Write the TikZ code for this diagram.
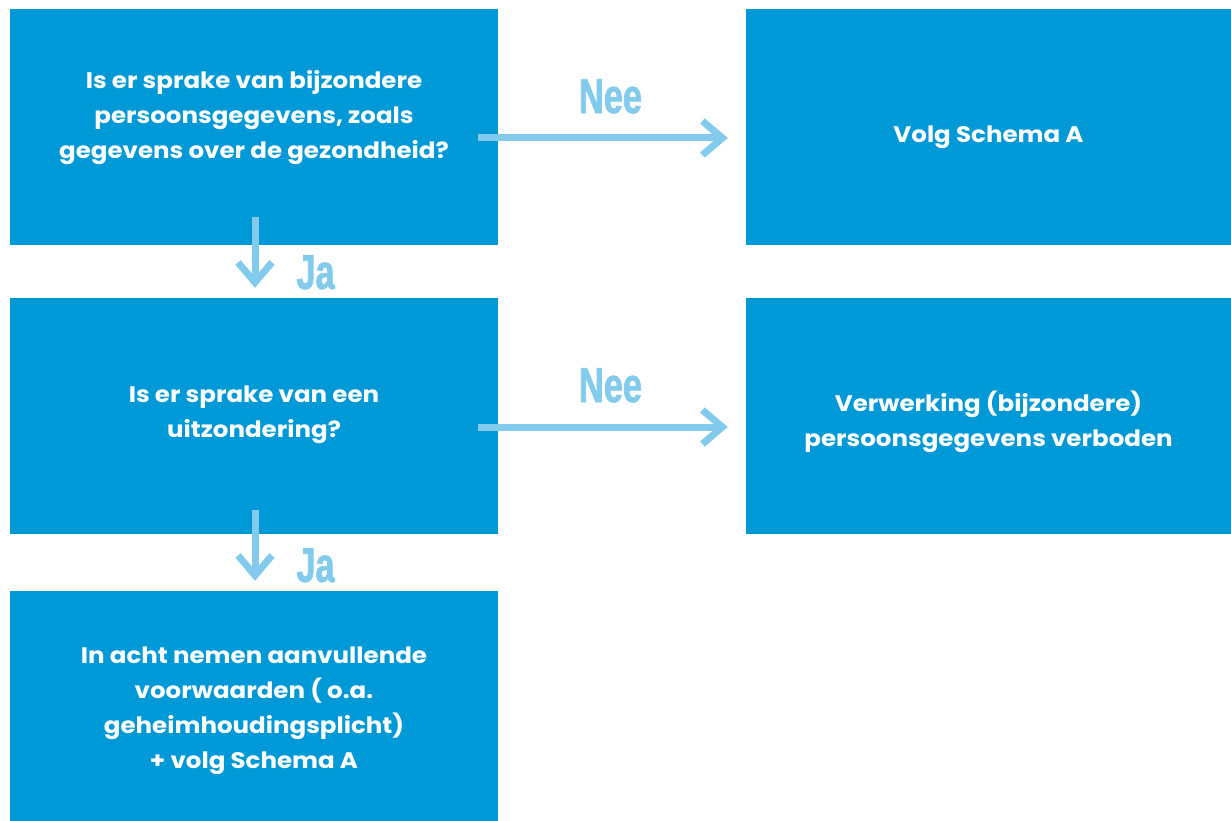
\documentclass[tikz,border=0pt]{standalone}
\usepackage{fontspec}
\setmainfont{Poppins}[FakeStretch=1.09]
\newfontfamily\condfont[FakeStretch=0.7,FakeBold=1.5]{Liberation Sans}
\usetikzlibrary{arrows.meta}

\definecolor{boxblue}{HTML}{0099D8}
\definecolor{arrowblue}{HTML}{82CBEC}

\tikzset{
  box/.style={fill=boxblue,inner sep=0pt,minimum height=236pt},
  txt/.style={text=white,align=center,inner sep=0pt,font=\bfseries\fontsize{22.5}{35}\selectfont},
  arr/.style={draw=arrowblue,line width=7pt,
    -{Straight Barb[length=20pt,width=34pt,line width=7pt]}},
  lbl/.style={text=arrowblue,inner sep=0pt,font=\condfont\bfseries\fontsize{49}{49}\selectfont},
}

\begin{document}
\begin{tikzpicture}[x=1pt,y=-1pt]
\useasboundingbox (0,0) rectangle (1231,821);
\node[box,minimum width=488pt] (q1) at (254,127) {};
\node[box,minimum width=485pt] (a1) at (988.5,127) {};
\node[box,minimum width=488pt] (q2) at (254,416) {};
\node[box,minimum width=485pt] (a2) at (988.5,416) {};
\node[box,minimum width=488pt,minimum height=230pt] (res) at (254,706) {};
% texts
\node[txt] at ([yshift=9pt]q1) {Is er sprake van bijzondere\\persoonsgegevens, zoals\\gegevens over de gezondheid?};
\node[txt] at ([yshift=-10pt]a1) {Volg Schema A};
\node[txt] at ([yshift=1pt]q2) {Is er sprake van een\\uitzondering?};
\node[txt] at ([yshift=-6pt]a2) {Verwerking (bijzondere)\\persoonsgegevens verboden};
\node[txt] at ([yshift=-5pt]res) {In acht nemen aanvullende\\voorwaarden ( o.a.\\geheimhoudingsplicht)\\+ volg Schema A};
% nee
\draw[arr] ([xshift=-20pt,yshift=-11pt]q1.east) -- node[lbl,pos=0.53,above=21pt] {Nee} ([xshift=-18pt,yshift=-11pt]a1.west);
\draw[arr] ([xshift=-20pt,yshift=-11pt]q2.east) -- node[lbl,pos=0.53,above=21pt] {Nee} ([xshift=-18pt,yshift=-11pt]a2.west);
% ja
\draw[arr] ([xshift=1pt,yshift=28pt]q1.south) -- node[lbl,pos=0.78,right=38pt] {Ja} ([xshift=1pt,yshift=10pt]q2.north);
\draw[arr] ([xshift=1pt,yshift=24pt]q2.south) -- node[lbl,pos=0.78,right=38pt] {Ja} ([xshift=1pt,yshift=10pt]res.north);
\end{tikzpicture}
\end{document}
